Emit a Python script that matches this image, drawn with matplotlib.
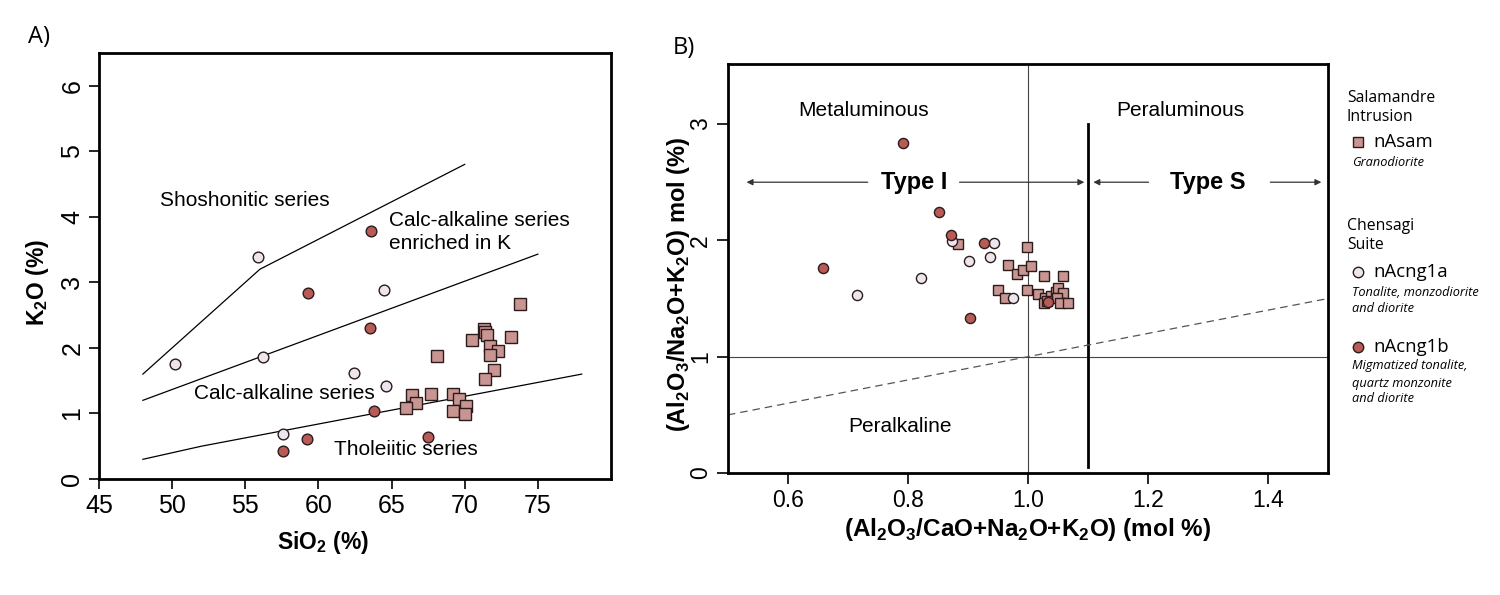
import matplotlib.pyplot as plt
import numpy as np

plt.rcParams['font.family'] = ['Liberation Sans', 'DejaVu Sans']
plt.rcParams['mathtext.fontset'] = 'custom'
plt.rcParams['mathtext.rm'] = 'Liberation Sans'
plt.rcParams['mathtext.bf'] = 'Liberation Sans:bold'

# ---- panel A: K2O vs SiO2 ----
sam_sio2 = [73.8, 71.3, 71.4, 71.5, 70.5, 73.2, 71.7, 72.3, 71.7, 68.1, 72.0,
            71.4, 66.4, 67.7, 69.2, 69.6, 66.7, 66.0, 70.1, 69.2, 70.0]
sam_k2o = [2.67, 2.29, 2.25, 2.20, 2.12, 2.16, 2.03, 1.96, 1.89, 1.88, 1.66,
           1.52, 1.28, 1.29, 1.30, 1.22, 1.16, 1.08, 1.11, 1.04, 0.99]
cng1a_sio2 = [50.2, 55.9, 56.2, 64.5, 62.4, 64.6, 57.6]
cng1a_k2o = [1.76, 3.38, 1.86, 2.88, 1.62, 1.42, 0.69]
cng1b_sio2 = [63.6, 59.3, 63.5, 63.8, 59.2, 57.6, 67.5]
cng1b_k2o = [3.79, 2.84, 2.31, 1.03, 0.61, 0.42, 0.64]

# series boundaries (Peccerillo & Taylor style)
shosho_x = [48, 56, 70]
shosho_y = [1.6, 3.2, 4.8]
highk_x = [48, 75]
highk_y = [1.2, 3.43]
thol_x = [48, 52, 78]
thol_y = [0.3, 0.5, 1.6]

# ---- panel B: A/NK vs A/CNK ----
sam_acnk = [0.884, 0.999, 0.966, 0.982, 0.992, 1.005, 1.027, 1.059, 0.950,
            0.961, 0.999, 1.016, 1.029, 1.026, 1.038, 1.046, 1.050, 1.059,
            1.048, 1.053, 1.067, 1.031]
sam_ank = [1.967, 1.944, 1.789, 1.714, 1.749, 1.777, 1.697, 1.697, 1.576,
           1.504, 1.576, 1.542, 1.504, 1.461, 1.519, 1.553, 1.593, 1.547,
           1.504, 1.461, 1.461, 1.475]
cng1a_acnk = [0.715, 0.822, 0.874, 0.944, 0.901, 0.937, 0.975]
cng1a_ank = [1.533, 1.674, 1.993, 1.979, 1.826, 1.858, 1.504]
cng1b_acnk = [0.792, 0.851, 0.871, 0.927, 0.659, 0.903, 1.033]
cng1b_ank = [2.833, 2.243, 2.045, 1.979, 1.763, 1.332, 1.470]

sam_col = '#c99592'
a_col = '#ede6ee'
b_col = '#b85a55'
edge = '#2b1b1b'

fig = plt.figure(figsize=(15, 5.95), dpi=100)

# ================= A =================
axa = fig.add_axes([0.066, 0.195, 0.3413, 0.716])
for xs, ys in [(shosho_x, shosho_y), (highk_x, highk_y), (thol_x, thol_y)]:
    axa.plot(xs, ys, color='k', lw=0.9, zorder=1)

axa.plot(sam_sio2, sam_k2o, 's', ms=8, mfc=sam_col, mec=edge, mew=1.0, zorder=3)
axa.plot(cng1a_sio2, cng1a_k2o, 'o', ms=7.7, mfc=a_col, mec=edge, mew=1.0, zorder=3)
axa.plot(cng1b_sio2, cng1b_k2o, 'o', ms=7.7, mfc=b_col, mec=edge, mew=1.0, zorder=3)

axa.text(49.2, 4.25, 'Shoshonitic series', fontsize=15, va='center')
axa.text(64.8, 3.95, 'Calc-alkaline series', fontsize=15, va='center')
axa.text(64.8, 3.59, 'enriched in K', fontsize=15, va='center')
axa.text(51.5, 1.31, 'Calc-alkaline series', fontsize=15, va='center')
axa.text(61.1, 0.45, 'Tholeiitic series', fontsize=15, va='center')

axa.set_xlim(45, 80)
axa.set_ylim(0, 6.5)
axa.set_xticks([45, 50, 55, 60, 65, 70, 75])
axa.set_yticks(range(0, 7))
axa.tick_params(labelsize=18, length=7, width=1.2, direction='out')
axa.tick_params(axis='y', labelrotation=90)
for lab in axa.get_yticklabels():
    lab.set_va('center')
for sp in axa.spines.values():
    sp.set_linewidth(2)
axa.set_xlabel(r'SiO$_\mathbf{2}$ (%)', fontsize=16.5, fontweight='bold', va='center')
axa.set_ylabel(r'K$_\mathbf{2}$O (%)', fontsize=16.5, fontweight='bold', va='center')
axa.xaxis.set_label_coords(0.437, -0.15)
axa.yaxis.set_label_coords(-0.121, 0.46)

fig.text(28 / 1500, 1 - 37 / 595, 'A)', fontsize=17, va='center',
         family=['Open Sans', 'DejaVu Sans'])

# ================= B =================
axb = fig.add_axes([0.4853, 0.205, 0.4, 0.6882])
axb.axvline(1.0, color='#444444', lw=0.8, zorder=1)
axb.axhline(1.0, color='#444444', lw=0.8, zorder=1)
axb.plot([1.1, 1.1], [0.05, 3.0], color='k', lw=2, zorder=1)
axb.plot([0.5, 1.5], [0.5, 1.5], color='#555555', lw=0.9, ls=(0, (6, 4)), zorder=1)

arrow = dict(arrowstyle='-|>', lw=0.9, color='#333333', mutation_scale=9,
             shrinkA=0, shrinkB=0)
for x0, x1 in [(0.733, 0.531), (0.886, 1.094), (1.201, 1.109), (1.404, 1.489)]:
    axb.annotate('', xy=(x1, 2.5), xytext=(x0, 2.5), arrowprops=arrow)
axb.text(0.81, 2.5, 'Type I', fontsize=17, fontweight='bold', ha='center', va='center')
axb.text(1.30, 2.5, 'Type S', fontsize=17, fontweight='bold', ha='center', va='center')
axb.text(0.726, 3.12, 'Metaluminous', fontsize=15, ha='center', va='center')
axb.text(1.254, 3.12, 'Peraluminous', fontsize=15, ha='center', va='center')
axb.text(0.786, 0.40, 'Peralkaline', fontsize=15, ha='center', va='center')

axb.plot(sam_acnk, sam_ank, 's', ms=7.7, mfc=sam_col, mec=edge, mew=1.0, zorder=3)
axb.plot(cng1a_acnk, cng1a_ank, 'o', ms=7.3, mfc=a_col, mec=edge, mew=1.0, zorder=3)
axb.plot(cng1b_acnk, cng1b_ank, 'o', ms=7.3, mfc=b_col, mec=edge, mew=1.0, zorder=3)

axb.set_xlim(0.5, 1.5)
axb.set_ylim(0, 3.52)
axb.set_xticks([0.6, 0.8, 1.0, 1.2, 1.4])
axb.set_xticklabels(['0.6', '0.8', '1.0', '1.2', '1.4'])
axb.set_yticks([0, 1, 2, 3])
axb.tick_params(labelsize=16.5, length=8, width=1.2, direction='out')
axb.tick_params(axis='y', labelrotation=90)
for lab in axb.get_yticklabels():
    lab.set_va('center')
for sp in axb.spines.values():
    sp.set_linewidth(2)
axb.set_xlabel(r'(Al$_\mathbf{2}$O$_\mathbf{3}$/CaO+Na$_\mathbf{2}$O+K$_\mathbf{2}$O) (mol %)',
               fontsize=17.5, fontweight='bold', va='center')
axb.set_ylabel(r'(Al$_\mathbf{2}$O$_\mathbf{3}$/Na$_\mathbf{2}$O+K$_\mathbf{2}$O) mol (%)',
               fontsize=17, fontweight='bold', va='center')
axb.xaxis.set_label_coords(0.5, -0.139)
axb.yaxis.set_label_coords(-0.083, 0.46)

fig.text(673 / 1500, 1 - 48 / 595, 'B)', fontsize=17, va='center',
         family=['Open Sans', 'DejaVu Sans'])

# ---- legend on the right ----
lfont = ['Open Sans', 'DejaVu Sans']
headers = [('Salamandre', 98), ('Intrusion', 117), ('Chensagi', 226), ('Suite', 245)]
for txt, y in headers:
    fig.text(1347 / 1500, 1 - y / 595, txt, fontsize=11.3, va='center', family=lfont)

entries = [('nAsam', 's', sam_col, 142), ('nAcng1a', 'o', a_col, 272),
           ('nAcng1b', 'o', b_col, 347)]
for name, mk, col, y in entries:
    axb.plot([1358 / 1500], [1 - y / 595], mk, ms=7.5, mfc=col, mec=edge, mew=1.0,
             transform=fig.transFigure, clip_on=False)
    fig.text(1373 / 1500, 1 - y / 595, name, fontsize=13.3, va='center', family=lfont)

notes = [('Granodiorite', 163), ('Tonalite, monzodiorite', 292), ('and diorite', 308),
         ('Migmatized tonalite,', 366), ('quartz monzonite', 383), ('and diorite', 398)]
for txt, y in notes:
    fig.text(1352 / 1500, 1 - y / 595, txt, fontsize=9.2, style='italic', va='center',
             family=lfont)

fig.savefig('out.png', dpi=100)
